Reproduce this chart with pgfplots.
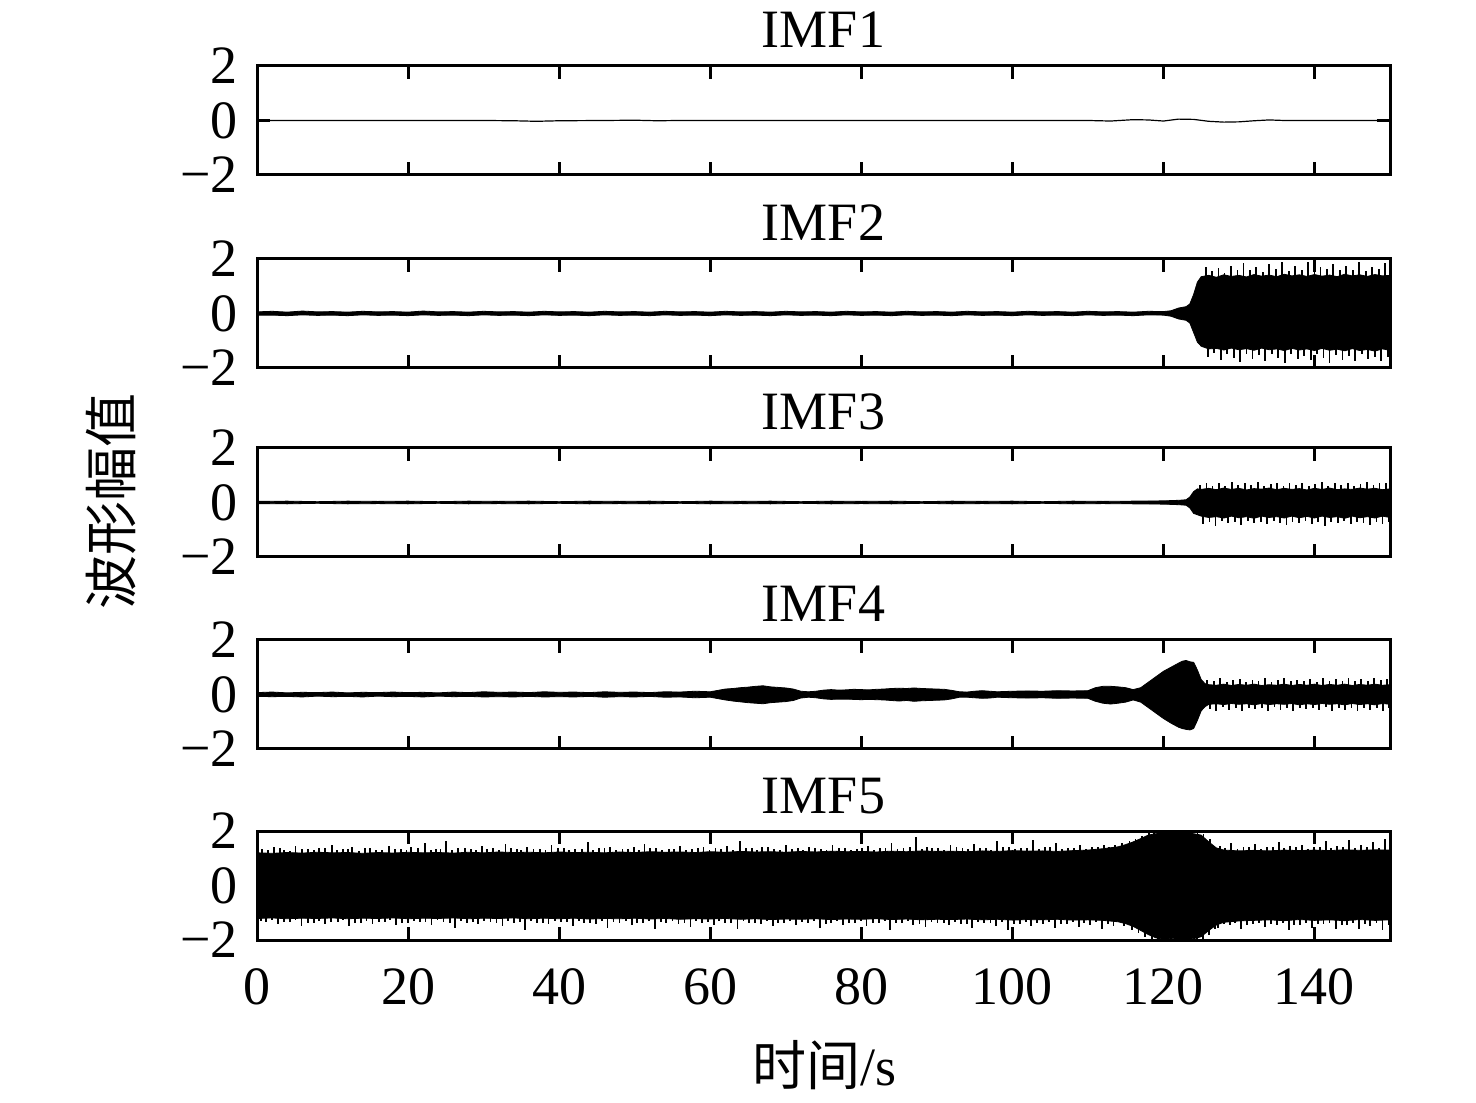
\documentclass[border=0pt]{standalone}
\usepackage{pgfplots}
\pgfplotsset{compat=1.18}
\usepackage{fontspec}
\setmainfont{Liberation Serif}
\newfontfamily\cjk{Noto Sans CJK SC}
\pgfplotsset{imf/.style={
  width=566.5pt, height=54.5pt, scale only axis,
  xmin=0, xmax=150, ymin=-2, ymax=2,
  xtick={0,20,...,140}, ytick={-2,0,2}, yticklabels={−2,0,2}, xticklabels={},
  major tick length=6.5pt,
  every tick/.style={line width=1.5pt, black},
  axis line style={line width=1.5pt},
  title style={anchor=base, at={(0.5,1)}, yshift=3pt},
  yticklabel style={xshift=-6pt},
  axis on top, anchor=south west},
  env/.style={fill=black, draw=black, line width=0.4pt},
  spk/.style={ycomb, black, line width=0.9pt}}
\begin{document}
\begin{tikzpicture}[font=\fontsize{27}{30}\selectfont]
\path[use as bounding box] (0,0) rectangle (738pt,551pt);
% IMF1
\begin{axis}[imf, at={(128.5pt,463.5pt)}, title={IMF1}]
\addplot[black, line width=0.6pt] coordinates {(0,0) (30,0) (34,-0.01) (37,-0.03) (40,-0.01) (46,0) (50,0.01) (53,-0.01) (56,0) (100,0) (110,0) (113,-0.02) (116,0.03) (118,0.02) (120,-0.02) (122,0.05) (124,0.04) (126,-0.03) (128,-0.06) (130,-0.05) (132,-0.01) (134,0.02) (136,0) (150,0)};
\end{axis}
% IMF2
\begin{axis}[imf, at={(128.5pt,367pt)}, title={IMF2}]
\addplot[env] coordinates {
(0,0.06) (2,0.08) (4,0.05) (6,0.09) (8,0.06) (10,0.07) (12,0.05) (14,0.08) (16,0.06) (18,0.07) (20,0.05) (22,0.09) (24,0.06) (26,0.07) (28,0.05) (30,0.08) (32,0.06) (34,0.07) (36,0.05) (38,0.08) (40,0.06) (42,0.07) (44,0.05) (46,0.08) (48,0.06) (50,0.07) (52,0.05) (54,0.08) (56,0.06) (58,0.07) (60,0.05) (62,0.08) (64,0.06) (66,0.07) (68,0.05) (70,0.08) (72,0.06) (74,0.07) (76,0.05) (78,0.08) (80,0.06) (82,0.07) (84,0.05) (86,0.08) (88,0.06) (90,0.07) (92,0.05) (94,0.08) (96,0.06) (98,0.07) (100,0.05) (102,0.08) (104,0.06) (106,0.07) (108,0.05) (110,0.08) (112,0.06) (114,0.07) (116,0.05) (118,0.08) (120,0.07) (121,0.1) (122,0.2) (123,0.25) (123.5,0.35) (124,0.7) (124.5,1.15)
(125,1.35) (126,1.4) (127,1.33) (128,1.42) (129,1.36) (130,1.4) (131,1.34) (132,1.43) (133,1.37) (134,1.41) (135,1.35) (136,1.44) (137,1.38) (138,1.42) (139,1.36) (140,1.43) (141,1.37) (142,1.41) (143,1.35) (144,1.44) (145,1.38) (146,1.42) (147,1.36) (148,1.43) (149,1.38) (150,1.4)
(150,-1.35) (149,-1.3) (148,-1.38) (147,-1.32) (146,-1.36) (145,-1.29) (144,-1.37) (143,-1.31) (142,-1.35) (141,-1.28) (140,-1.36) (139,-1.3) (138,-1.34) (137,-1.28) (136,-1.36) (135,-1.3) (134,-1.33) (133,-1.27) (132,-1.35) (131,-1.29) (130,-1.33) (129,-1.27) (128,-1.34) (127,-1.28) (126,-1.3) (125,-1.2)
(124.5,-1.05) (124,-0.7) (123.5,-0.35) (123,-0.25) (122,-0.2) (121,-0.1) (120,-0.06)
(118,-0.05) (116,-0.08) (114,-0.06) (112,-0.07) (110,-0.05) (108,-0.08) (106,-0.06) (104,-0.07) (102,-0.05) (100,-0.08) (98,-0.06) (96,-0.07) (94,-0.05) (92,-0.08) (90,-0.06) (88,-0.07) (86,-0.05) (84,-0.08) (82,-0.06) (80,-0.07) (78,-0.05) (76,-0.08) (74,-0.06) (72,-0.07) (70,-0.05) (68,-0.08) (66,-0.06) (64,-0.07) (62,-0.05) (60,-0.08) (58,-0.06) (56,-0.07) (54,-0.05) (52,-0.08) (50,-0.06) (48,-0.07) (46,-0.05) (44,-0.08) (42,-0.06) (40,-0.07) (38,-0.05) (36,-0.08) (34,-0.06) (32,-0.07) (30,-0.05) (28,-0.08) (26,-0.06) (24,-0.07) (22,-0.05) (20,-0.08) (18,-0.06) (16,-0.07) (14,-0.05) (12,-0.08) (10,-0.06) (8,-0.07) (6,-0.05) (4,-0.08) (2,-0.06) (0,-0.06)};
\addplot[spk] coordinates {(125.6,1.72) (126.4,1.55) (127.3,1.68) (128.1,1.5) (128.9,1.75) (129.8,1.58) (130.6,1.85) (131.5,1.6) (132.3,1.7) (133.2,1.52) (134.0,1.8) (134.9,1.62) (135.7,1.9) (136.6,1.56) (137.4,1.73) (138.3,1.6) (139.1,1.88) (140.0,1.55) (140.8,1.7) (141.7,1.62) (142.5,1.82) (143.4,1.58) (144.2,1.75) (145.1,1.6) (145.9,1.88) (146.8,1.57) (147.6,1.72) (148.5,1.64) (149.3,1.85)};
\addplot[spk] coordinates {(125.9,-1.6) (126.7,-1.45) (127.6,-1.7) (128.4,-1.5) (129.3,-1.62) (130.1,-1.78) (131.0,-1.48) (131.8,-1.66) (132.7,-1.52) (133.5,-1.75) (134.4,-1.5) (135.2,-1.62) (136.1,-1.8) (136.9,-1.5) (137.8,-1.68) (138.6,-1.55) (139.5,-1.72) (140.3,-1.5) (141.2,-1.64) (142.0,-1.8) (142.9,-1.52) (143.7,-1.7) (144.6,-1.55) (145.4,-1.76) (146.3,-1.5) (147.1,-1.68) (148.0,-1.6) (148.8,-1.75) (149.7,-1.58)};
\end{axis}
% IMF3
\begin{axis}[imf, at={(128.5pt,272.5pt)}, title={IMF3}]
\addplot[env] coordinates {
(0,0.04) (4,0.05) (8,0.03) (12,0.05) (16,0.04) (20,0.05) (24,0.03) (28,0.05) (32,0.04) (36,0.05) (40,0.03) (44,0.05) (48,0.04) (52,0.05) (56,0.03) (60,0.05) (64,0.04) (68,0.05) (72,0.03) (76,0.05) (80,0.04) (84,0.05) (88,0.03) (92,0.05) (96,0.04) (100,0.05) (104,0.03) (108,0.05) (112,0.04) (116,0.05) (120,0.06) (122,0.08) (123,0.1) (123.5,0.2) (124,0.4)
(124.5,0.5) (125,0.48) (126,0.52) (127,0.47) (128,0.53) (129,0.48) (130,0.52) (131,0.46) (132,0.51) (133,0.49) (134,0.53) (135,0.47) (136,0.52) (137,0.48) (138,0.51) (139,0.46) (140,0.52) (141,0.48) (142,0.53) (143,0.47) (144,0.5) (145,0.48) (146,0.53) (147,0.49) (148,0.52) (149,0.47) (150,0.5)
(150,-0.55) (149,-0.5) (148,-0.57) (147,-0.52) (146,-0.56) (145,-0.5) (144,-0.58) (143,-0.52) (142,-0.55) (141,-0.5) (140,-0.57) (139,-0.51) (138,-0.56) (137,-0.5) (136,-0.57) (135,-0.52) (134,-0.55) (133,-0.5) (132,-0.58) (131,-0.52) (130,-0.56) (129,-0.5) (128,-0.57) (127,-0.52) (126,-0.55) (125,-0.5) (124.5,-0.45)
(124,-0.4) (123.5,-0.2) (123,-0.1) (122,-0.08) (120,-0.06)
(116,-0.05) (112,-0.04) (108,-0.05) (104,-0.03) (100,-0.05) (96,-0.04) (92,-0.05) (88,-0.03) (84,-0.05) (80,-0.04) (76,-0.05) (72,-0.03) (68,-0.05) (64,-0.04) (60,-0.05) (56,-0.03) (52,-0.05) (48,-0.04) (44,-0.05) (40,-0.03) (36,-0.05) (32,-0.04) (28,-0.05) (24,-0.03) (20,-0.05) (16,-0.04) (12,-0.05) (8,-0.03) (4,-0.05) (0,-0.04)};
\addplot[spk] coordinates {(124.8,0.65) (125.7,0.72) (126.5,0.62) (127.4,0.7) (128.2,0.6) (129.1,0.75) (129.9,0.63) (130.8,0.7) (131.6,0.66) (132.5,0.74) (133.3,0.6) (134.2,0.68) (135.0,0.72) (135.9,0.62) (136.7,0.7) (137.6,0.64) (138.4,0.73) (139.3,0.6) (140.1,0.68) (141.0,0.74) (141.8,0.62) (142.7,0.7) (143.5,0.65) (144.4,0.72) (145.2,0.6) (146.1,0.68) (146.9,0.74) (147.8,0.63) (148.6,0.7) (149.5,0.72)};
\addplot[spk] coordinates {(125.2,-0.78) (126.1,-0.7) (126.9,-0.85) (127.8,-0.68) (128.6,-0.75) (129.5,-0.7) (130.3,-0.82) (131.2,-0.68) (132.0,-0.76) (132.9,-0.7) (133.7,-0.8) (134.6,-0.67) (135.4,-0.74) (136.3,-0.82) (137.1,-0.7) (138.0,-0.76) (138.8,-0.68) (139.7,-0.8) (140.5,-0.72) (141.4,-0.85) (142.2,-0.7) (143.1,-0.76) (143.9,-0.68) (144.8,-0.8) (145.6,-0.7) (146.5,-0.75) (147.3,-0.82) (148.2,-0.7) (149.0,-0.78) (149.8,-0.72)};
\end{axis}
% IMF4
\begin{axis}[imf, at={(128.5pt,176.5pt)}, title={IMF4}]
\addplot[env] coordinates {
(0,0.07) (2,0.09) (4,0.06) (6,0.08) (8,0.07) (10,0.09) (12,0.06) (14,0.08) (16,0.07) (18,0.09) (20,0.07) (22,0.08) (24,0.06) (26,0.09) (28,0.07) (30,0.1) (32,0.08) (34,0.09) (36,0.07) (38,0.1) (40,0.08) (42,0.09) (44,0.07) (46,0.1) (48,0.08) (50,0.09) (52,0.07) (54,0.1) (56,0.09) (58,0.12) (60,0.1) (61,0.15) (62,0.2) (63,0.22) (64,0.25) (65,0.27) (66,0.3) (67,0.32) (68,0.28) (69,0.26) (70,0.24) (71,0.2) (72,0.12) (73,0.1) (74,0.12) (75,0.16) (76,0.18) (77,0.16) (78,0.17) (79,0.19) (80,0.18) (81,0.17) (82,0.19) (83,0.2) (84,0.22) (85,0.23) (86,0.22) (87,0.24) (88,0.22) (89,0.21) (90,0.2) (91,0.19) (92,0.15) (93,0.1) (94,0.09) (95,0.12) (96,0.14) (97,0.12) (98,0.1) (99,0.11) (100,0.12) (102,0.13) (104,0.12) (106,0.14) (108,0.13) (110,0.14) (111,0.25) (112,0.3) (113,0.3) (114,0.28) (115,0.25) (116,0.18) (117,0.25) (118,0.45) (119,0.65) (120,0.85) (121,1.0) (122,1.15) (122.5,1.22) (123,1.25) (123.5,1.2) (124,1.18) (124.5,0.9) (125,0.55)
(125.5,0.4) (126,0.36) (127,0.34) (128,0.38) (129,0.33) (130,0.37) (131,0.34) (132,0.38) (133,0.33) (134,0.36) (135,0.34) (136,0.38) (137,0.33) (138,0.37) (139,0.34) (140,0.38) (141,0.33) (142,0.37) (143,0.34) (144,0.38) (145,0.33) (146,0.37) (147,0.34) (148,0.38) (149,0.34) (150,0.36)
(150,-0.36) (149,-0.33) (148,-0.38) (147,-0.34) (146,-0.37) (145,-0.33) (144,-0.38) (143,-0.34) (142,-0.36) (141,-0.33) (140,-0.37) (139,-0.34) (138,-0.38) (137,-0.33) (136,-0.36) (135,-0.34) (134,-0.37) (133,-0.33) (132,-0.38) (131,-0.34) (130,-0.36) (129,-0.33) (128,-0.37) (127,-0.34) (126,-0.36) (125.5,-0.45)
(125,-0.6) (124.5,-0.95) (124,-1.25) (123.5,-1.3) (123,-1.28) (122.5,-1.25) (122,-1.2) (121,-1.05) (120,-0.88) (119,-0.68) (118,-0.48) (117,-0.28) (116,-0.2) (115,-0.28) (114,-0.32) (113,-0.35) (112,-0.32) (111,-0.25) (110,-0.14) (108,-0.13) (106,-0.14) (104,-0.12) (102,-0.13) (100,-0.12) (99,-0.11) (98,-0.1) (97,-0.13) (96,-0.14) (95,-0.12) (94,-0.1) (93,-0.1) (92,-0.16) (91,-0.2) (90,-0.21) (89,-0.22) (88,-0.23) (87,-0.25) (86,-0.22) (85,-0.24) (84,-0.22) (83,-0.2) (82,-0.19) (81,-0.18) (80,-0.19) (79,-0.18) (78,-0.17) (77,-0.17) (76,-0.18) (75,-0.16) (74,-0.12) (73,-0.1) (72,-0.13) (71,-0.22) (70,-0.26) (69,-0.28) (68,-0.3) (67,-0.34) (66,-0.32) (65,-0.3) (64,-0.27) (63,-0.24) (62,-0.2) (61,-0.15) (60,-0.1) (58,-0.12) (56,-0.09) (54,-0.1) (52,-0.07) (50,-0.09) (48,-0.08) (46,-0.1) (44,-0.07) (42,-0.09) (40,-0.08) (38,-0.09) (36,-0.07) (34,-0.09) (32,-0.08) (30,-0.09) (28,-0.07) (26,-0.08) (24,-0.06) (22,-0.09) (20,-0.07) (18,-0.08) (16,-0.06) (14,-0.09) (12,-0.07) (10,-0.08) (8,-0.06) (6,-0.09) (4,-0.07) (2,-0.08) (0,-0.07)};
\addplot[spk] coordinates {(125.8,0.55) (126.7,0.48) (127.5,0.6) (128.4,0.45) (129.2,0.52) (130.1,0.58) (130.9,0.46) (131.8,0.55) (132.6,0.48) (133.5,0.6) (134.3,0.47) (135.2,0.53) (136.0,0.62) (136.9,0.48) (137.7,0.55) (138.6,0.5) (139.4,0.58) (140.3,0.47) (141.1,0.6) (142.0,0.5) (142.8,0.56) (143.7,0.48) (144.5,0.62) (145.4,0.5) (146.2,0.57) (147.1,0.48) (147.9,0.6) (148.8,0.52) (149.6,0.58)};
\addplot[spk] coordinates {(126.2,-0.52) (127.0,-0.6) (127.9,-0.47) (128.7,-0.56) (129.6,-0.5) (130.4,-0.62) (131.3,-0.48) (132.1,-0.55) (133.0,-0.5) (133.8,-0.6) (134.7,-0.47) (135.5,-0.56) (136.4,-0.5) (137.2,-0.62) (138.1,-0.48) (138.9,-0.55) (139.8,-0.5) (140.6,-0.58) (141.5,-0.47) (142.3,-0.6) (143.2,-0.5) (144.0,-0.56) (144.9,-0.48) (145.7,-0.62) (146.6,-0.5) (147.4,-0.57) (148.3,-0.48) (149.1,-0.6) (149.9,-0.5)};
\end{axis}
% IMF5
\begin{axis}[imf, at={(128.5pt,81pt)}, title={IMF5}, xticklabels={0,20,40,60,80,100,120,140}, xticklabel style={yshift=-11pt}]
\addplot[env] coordinates {
(0,1.2) (2,1.18) (4,1.21) (6,1.19) (8,1.22) (10,1.2) (12,1.21) (14,1.18) (16,1.21) (18,1.19) (20,1.22) (22,1.2) (24,1.21) (26,1.19) (28,1.22) (30,1.2) (32,1.23) (34,1.21) (36,1.22) (38,1.2) (40,1.23) (42,1.21) (44,1.22) (46,1.2) (48,1.23) (50,1.21) (52,1.24) (54,1.22) (56,1.23) (58,1.21) (60,1.24) (62,1.22) (64,1.25) (66,1.23) (68,1.24) (70,1.22) (72,1.25) (74,1.23) (76,1.26) (78,1.24) (80,1.25) (82,1.23) (84,1.26) (86,1.24) (88,1.27) (90,1.25) (92,1.26) (94,1.24) (96,1.27) (98,1.25) (100,1.28) (102,1.26) (104,1.27) (106,1.25) (108,1.28) (110,1.3) (112,1.35) (114,1.42) (115,1.5) (116,1.6) (117,1.72) (118,1.85) (119,1.9) (120,1.93) (121,1.95) (122,1.92) (123,1.94) (124,1.9) (125,1.85) (126,1.6) (127,1.38) (128,1.3) (130,1.27) (132,1.29) (134,1.27) (136,1.3) (138,1.28) (140,1.3) (142,1.28) (144,1.31) (146,1.29) (148,1.31) (150,1.3)
(150,-1.26) (148,-1.28) (146,-1.25) (144,-1.29) (142,-1.26) (140,-1.28) (138,-1.25) (136,-1.29) (134,-1.26) (132,-1.28) (130,-1.3) (128,-1.35) (127,-1.45) (126,-1.65) (125,-1.88) (124,-1.95) (123,-1.97) (122,-1.96) (121,-1.95) (120,-1.97) (119,-1.92) (118,-1.8) (117,-1.65) (116,-1.5) (115,-1.4) (114,-1.33) (112,-1.28) (110,-1.26) (108,-1.27) (106,-1.24) (104,-1.26) (102,-1.25) (100,-1.27) (98,-1.24) (96,-1.26) (94,-1.23) (92,-1.25) (90,-1.24) (88,-1.26) (86,-1.23) (84,-1.25) (82,-1.22) (80,-1.24) (78,-1.23) (76,-1.25) (74,-1.22) (72,-1.24) (70,-1.23) (68,-1.25) (66,-1.22) (64,-1.24) (62,-1.21) (60,-1.23) (58,-1.22) (56,-1.24) (54,-1.21) (52,-1.23) (50,-1.2) (48,-1.22) (46,-1.21) (44,-1.23) (42,-1.2) (40,-1.22) (38,-1.2) (36,-1.22) (34,-1.19) (32,-1.21) (30,-1.2) (28,-1.22) (26,-1.19) (24,-1.21) (22,-1.2) (20,-1.22) (18,-1.19) (16,-1.21) (14,-1.2) (12,-1.22) (10,-1.19) (8,-1.21) (6,-1.2) (4,-1.22) (2,-1.19) (0,-1.21)};
\addplot[spk] coordinates {(0.7,1.35) (2.3,1.4) (3.6,1.32) (5.1,1.45) (6.8,1.34) (8.2,1.38) (9.9,1.5) (11.4,1.33) (12.6,1.42) (14.3,1.36) (15.8,1.32) (17.5,1.46) (19.1,1.35) (20.4,1.4) (22.2,1.55) (23.7,1.34) (25.0,1.62) (26.6,1.37) (28.3,1.33) (29.8,1.44) (31.2,1.36) (32.9,1.52) (34.4,1.35) (35.7,1.41) (37.5,1.33) (39.0,1.47) (40.6,1.38) (42.1,1.34) (43.8,1.58) (45.3,1.36) (46.7,1.42) (48.4,1.34) (49.9,1.4) (51.3,1.53) (52.8,1.37) (54.5,1.35) (56.0,1.46) (57.6,1.34) (59.1,1.41) (60.7,1.37) (62.2,1.45) (63.9,1.62) (65.5,1.36) (66.9,1.43) (68.4,1.35) (70.0,1.5) (71.6,1.37) (73.1,1.42) (74.7,1.34) (76.2,1.48) (77.8,1.38) (79.4,1.35) (80.9,1.44) (82.5,1.36) (84.0,1.55) (85.6,1.38) (87.2,1.78) (88.7,1.4) (90.2,1.36) (91.8,1.47) (93.4,1.38) (94.9,1.52) (96.5,1.37) (98.0,1.65) (99.6,1.4) (101.1,1.38) (102.7,1.68) (104.3,1.42) (105.8,1.55) (107.4,1.39) (109.0,1.5) (110.5,1.43) (112.1,1.48) (113.6,1.5) (114.5,1.55) (115.5,1.65) (116.3,1.72) (117.2,1.82) (118.1,1.93) (118.8,1.96) (119.6,1.98) (120.4,1.97) (121.3,1.99) (122.1,1.97) (122.9,1.99) (123.7,1.96) (124.5,1.95) (125.3,1.9) (126.2,1.7) (127.5,1.45) (129.0,1.55) (130.6,1.4) (132.1,1.52) (133.7,1.42) (135.3,1.6) (136.8,1.44) (138.4,1.5) (139.9,1.4) (141.5,1.62) (143.0,1.45) (144.6,1.68) (146.2,1.48) (147.7,1.6) (149.3,1.7)};
\addplot[spk] coordinates {(1.5,1.3) (3.0,1.36) (4.4,1.28) (6.0,1.33) (7.5,1.29) (9.0,1.37) (10.6,1.3) (12.0,1.34) (13.5,1.28) (15.0,1.39) (16.6,1.3) (18.3,1.33) (19.8,1.29) (21.3,1.36) (23.0,1.3) (24.3,1.35) (25.8,1.29) (27.5,1.38) (29.0,1.3) (30.5,1.33) (32.0,1.29) (33.6,1.37) (35.0,1.3) (36.6,1.34) (38.2,1.29) (39.8,1.36) (41.3,1.31) (43.0,1.34) (44.5,1.3) (46.0,1.38) (47.5,1.31) (49.1,1.35) (50.6,1.3) (52.0,1.37) (53.6,1.31) (55.2,1.34) (56.8,1.3) (58.4,1.39) (59.9,1.31) (61.4,1.35) (63.0,1.32) (64.7,1.37) (66.2,1.31) (67.6,1.4) (69.2,1.32) (70.8,1.35) (72.3,1.31) (73.9,1.38) (75.4,1.32) (77.0,1.36) (78.6,1.31) (80.1,1.39) (81.7,1.32) (83.2,1.36) (84.8,1.33) (86.4,1.4) (88.0,1.33) (89.4,1.37) (91.0,1.32) (92.6,1.4) (94.1,1.33) (95.7,1.37) (97.2,1.32) (98.8,1.42) (100.3,1.34) (101.9,1.38) (103.5,1.33) (105.0,1.4) (106.6,1.34) (108.2,1.38) (109.8,1.35) (111.3,1.42) (112.8,1.4) (128.2,1.38) (129.8,1.34) (131.3,1.42) (132.9,1.35) (134.5,1.4) (136.0,1.36) (137.6,1.43) (139.1,1.35) (140.7,1.4) (142.2,1.36) (143.8,1.42) (145.4,1.37) (146.9,1.43) (148.5,1.38) (150.0,1.4)};
\addplot[spk] coordinates {(1.2,-1.35) (2.8,-1.42) (4.4,-1.33) (5.9,-1.48) (7.5,-1.36) (9.0,-1.4) (10.7,-1.34) (12.2,-1.5) (13.8,-1.36) (15.3,-1.41) (16.9,-1.33) (18.4,-1.45) (20.0,-1.37) (21.6,-1.35) (23.1,-1.44) (24.7,-1.34) (26.2,-1.55) (27.8,-1.38) (29.3,-1.42) (30.9,-1.35) (32.5,-1.47) (34.0,-1.36) (35.5,-1.62) (37.1,-1.38) (38.6,-1.43) (40.2,-1.35) (41.8,-1.5) (43.3,-1.37) (44.9,-1.41) (46.4,-1.55) (48.0,-1.36) (49.6,-1.44) (51.1,-1.38) (52.7,-1.6) (54.2,-1.37) (55.8,-1.42) (57.4,-1.52) (58.9,-1.36) (60.5,-1.45) (62.0,-1.38) (63.6,-1.58) (65.1,-1.37) (66.7,-1.43) (68.3,-1.5) (69.8,-1.36) (71.4,-1.46) (72.9,-1.38) (74.5,-1.55) (76.0,-1.37) (77.6,-1.44) (79.2,-1.38) (80.7,-1.5) (82.3,-1.39) (83.8,-1.65) (85.4,-1.38) (86.9,-1.45) (88.5,-1.52) (90.1,-1.38) (91.6,-1.46) (93.2,-1.4) (94.7,-1.55) (96.3,-1.38) (97.8,-1.48) (99.4,-1.62) (101.0,-1.4) (102.5,-1.5) (104.1,-1.42) (105.6,-1.55) (107.2,-1.4) (108.8,-1.52) (110.3,-1.44) (111.9,-1.58) (113.4,-1.5) (114.8,-1.5) (115.8,-1.62) (116.7,-1.75) (117.6,-1.88) (118.5,-1.97) (119.3,-1.99) (120.2,-1.99) (121.0,-1.98) (121.9,-1.99) (122.7,-1.99) (123.5,-1.99) (124.4,-1.98) (125.2,-1.95) (126.0,-1.8) (126.8,-1.6) (127.2,-1.55) (128.8,-1.45) (130.3,-1.6) (131.9,-1.42) (133.4,-1.52) (135.0,-1.44) (136.6,-1.65) (138.1,-1.45) (139.7,-1.55) (141.2,-1.42) (142.8,-1.58) (144.3,-1.46) (145.9,-1.6) (147.4,-1.48) (149.0,-1.65)};
\addplot[spk] coordinates {(0.5,-1.3) (2.0,-1.27) (3.6,-1.33) (5.1,-1.28) (6.7,-1.36) (8.2,-1.29) (9.8,-1.33) (11.4,-1.28) (13.0,-1.37) (14.5,-1.29) (16.1,-1.34) (17.6,-1.28) (19.2,-1.36) (20.8,-1.29) (22.3,-1.33) (23.9,-1.28) (25.5,-1.38) (27.0,-1.3) (28.6,-1.34) (30.1,-1.29) (31.7,-1.37) (33.2,-1.3) (34.8,-1.34) (36.3,-1.29) (37.9,-1.36) (39.4,-1.3) (41.0,-1.35) (42.6,-1.29) (44.1,-1.38) (45.7,-1.3) (47.2,-1.34) (48.8,-1.3) (50.3,-1.37) (51.9,-1.31) (53.5,-1.35) (55.0,-1.3) (56.6,-1.38) (58.1,-1.31) (59.7,-1.35) (61.2,-1.3) (62.8,-1.38) (64.4,-1.31) (65.9,-1.36) (67.5,-1.31) (69.0,-1.38) (70.6,-1.32) (72.2,-1.35) (73.7,-1.31) (75.3,-1.4) (76.8,-1.32) (78.4,-1.36) (80.0,-1.32) (81.5,-1.39) (83.1,-1.32) (84.6,-1.37) (86.2,-1.32) (87.7,-1.4) (89.3,-1.33) (90.9,-1.37) (92.4,-1.33) (94.0,-1.41) (95.5,-1.33) (97.1,-1.38) (98.6,-1.33) (100.2,-1.4) (101.8,-1.34) (103.3,-1.38) (104.9,-1.34) (106.4,-1.42) (108.0,-1.35) (109.5,-1.38) (111.1,-1.35) (112.7,-1.42) (128.0,-1.42) (129.5,-1.38) (131.1,-1.44) (132.7,-1.36) (134.2,-1.42) (135.8,-1.37) (137.3,-1.45) (138.9,-1.37) (140.5,-1.42) (142.0,-1.36) (143.6,-1.44) (145.1,-1.38) (146.7,-1.43) (148.2,-1.37) (149.8,-1.44)};
\end{axis}
\node[rotate=90, font={\fontsize{27}{30}\cjk}] at (55.5pt,300pt) {波形幅值};
\node[font={\fontsize{27}{30}\selectfont}] at (412pt,18.5pt) {{\cjk 时间}/s};
\end{tikzpicture}
\end{document}
